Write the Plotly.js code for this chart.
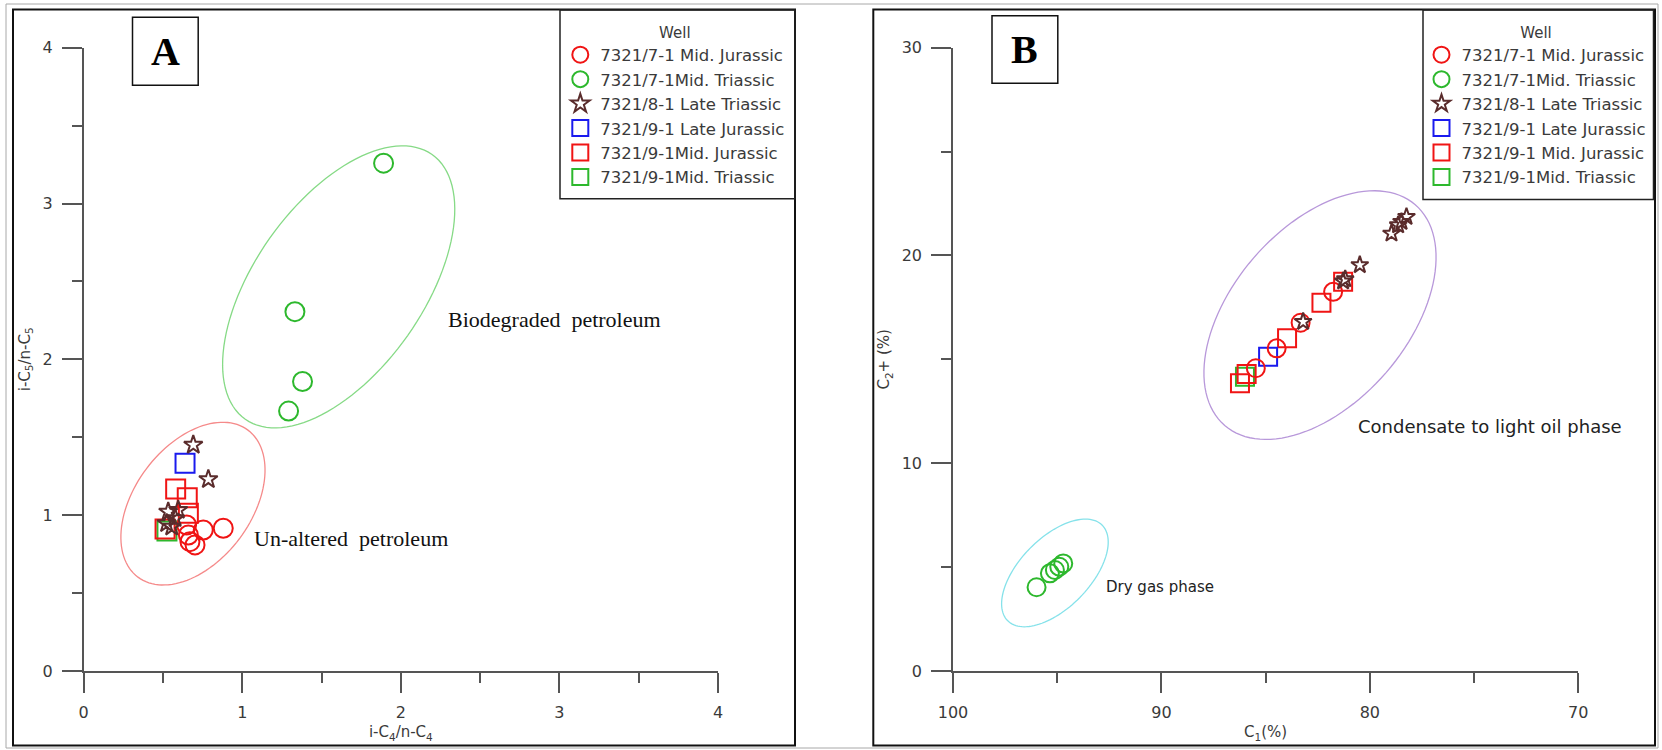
<!DOCTYPE html>
<html>
<head>
<meta charset="utf-8">
<script src="https://cdn.plot.ly/plotly-3.0.1.min.js"></script>
<style>
  html, body { margin: 0; padding: 0; background: #ffffff; }
  #chart { width: 1662px; height: 750px; }
</style>
</head>
<body>
<div id="chart"></div>
<script>
// ---------------- DATA ----------------
const seriesNames = [
  "7321/7-1 Mid. Jurassic",
  "7321/7-1Mid. Triassic",
  "7321/8-1 Late Triassic",
  "7321/9-1 Late Jurassic",
  "7321/9-1Mid. Jurassic",
  "7321/9-1Mid. Triassic"
];
const seriesNamesB = [
  "7321/7-1 Mid. Jurassic",
  "7321/7-1Mid. Triassic",
  "7321/8-1 Late Triassic",
  "7321/9-1 Late Jurassic",
  "7321/9-1 Mid. Jurassic",
  "7321/9-1Mid. Triassic"
];

// Panel A: i-C4/n-C4 (x) vs i-C5/n-C5 (y)
const A_71MidJur_x = [0.649, 0.754, 0.880, 0.670, 0.702, 0.660];
const A_71MidJur_y = [0.937, 0.905, 0.916, 0.830, 0.809, 0.873];
const A_71MidTri_x = [1.891, 1.332, 1.380, 1.292];
const A_71MidTri_y = [3.259, 2.306, 1.858, 1.668];
const A_81LateTri_x = [0.691, 0.786, 0.533, 0.576, 0.523, 0.555, 0.596];
const A_81LateTri_y = [1.451, 1.230, 1.022, 0.980, 0.948, 0.926, 1.033];
const A_91LateJur_x = [0.639];
const A_91LateJur_y = [1.333];
const A_91MidJur_x = [0.580, 0.653, 0.660, 0.513];
const A_91MidJur_y = [1.168, 1.112, 1.012, 0.911];
const A_91MidTri_x = [0.525];
const A_91MidTri_y = [0.899];

// Panel B: C1 (%) (x, reversed) vs C2+ (%) (y)
const B_71MidJur_x = [81.76, 83.32, 84.47, 85.47];
const B_71MidJur_y = [18.25, 16.76, 15.53, 14.57];
const B_71MidTri_x = [95.99, 95.35, 95.11, 94.90, 94.71];
const B_71MidTri_y = [4.03, 4.70, 4.86, 5.02, 5.18];
const B_81LateTri_x = [78.24, 78.48, 78.64, 78.96, 80.48, 81.28, 81.18, 83.20];
const B_81LateTri_y = [21.86, 21.62, 21.46, 21.06, 19.54, 18.76, 18.86, 16.81];
const B_91LateJur_x = [84.88];
const B_91LateJur_y = [15.13];
const B_91MidJur_x = [81.28, 82.32, 83.97, 85.91, 86.23];
const B_91MidJur_y = [18.73, 17.72, 16.01, 14.29, 13.85];
const B_91MidTri_x = [85.99];
const B_91MidTri_y = [14.16];

// Axis tick values
const A_xTicks = [0, 1, 2, 3, 4];
const A_yTicks = [0, 1, 2, 3, 4];
const B_xTicks = [100, 90, 80, 70];
const B_yTicks = [0, 10, 20, 30];

// ---------------- LAYOUT / STYLE ----------------
const W = 1662, H = 750;
const SANS = '"DejaVu Sans", "Liberation Sans", Arial, sans-serif';
const SERIF = '"Liberation Serif", "Times New Roman", serif';
const AXC = '#555555';
const TXC = '#3a3a3a';

const plotTop = 47.7, plotBot = 671;
const A_left = 83.7, A_right = 718;
const B_left = 953, B_right = 1578.2;

const px = v => v / W;
const py = v => 1 - v / H;

const COL = {
  red: '#f01414',
  green: '#2db82d',
  star: '#5a2c2c',
  blue: '#1a1aee'
};

// ellipse decorations: centre in data units, semi-axes (px) and tilt (deg, visual)
const ELLIPSES = [
  {xref: 'x', yref: 'y', cx: 1.608, cy: 2.465, a: 162, b: 84.4, th: 54.8, color: '#86da86', sx: (A_right - A_left) / 4, sy: (plotBot - plotTop) / 4},
  {xref: 'x', yref: 'y', cx: 0.689, cy: 1.074, a: 91.8, b: 58.2, th: 53.2, color: '#f58a8a', sx: (A_right - A_left) / 4, sy: (plotBot - plotTop) / 4},
  {xref: 'x2', yref: 'y2', cx: 95.11, cy: 4.72, a: 67.2, b: 35, th: 45.5, color: '#86e2ea', sx: -(B_right - B_left) / 30, sy: (plotBot - plotTop) / 30},
  {xref: 'x2', yref: 'y2', cx: 82.39, cy: 17.13, a: 145.8, b: 87.6, th: 49.2, color: '#b898da', sx: -(B_right - B_left) / 30, sy: (plotBot - plotTop) / 30}
];

function ellipsePath(e) {
  const n = 120, th = e.th * Math.PI / 180;
  let d = '';
  for (let i = 0; i <= n; i++) {
    const t = 2 * Math.PI * i / n;
    const dx = e.a * Math.cos(t) * Math.cos(th) - e.b * Math.sin(t) * Math.sin(th);
    const dy = e.a * Math.cos(t) * Math.sin(th) + e.b * Math.sin(t) * Math.cos(th);
    const x = e.cx + dx / e.sx, y = e.cy + dy / e.sy;
    d += (i === 0 ? 'M' : 'L') + x.toFixed(5) + ',' + y.toFixed(5);
  }
  return d + 'Z';
}

function mk(name, x, y, symbol, color, size, rank, xa, ya, leg) {
  return {
    type: 'scatter', mode: 'markers', name: name, x: x, y: y,
    xaxis: xa, yaxis: ya, legend: leg, legendrank: rank,
    marker: {symbol: symbol, size: size, color: color, line: {color: color, width: 2}},
    hoverinfo: 'x+y+name'
  };
}

// drawing order: green squares, red squares, blue squares, red circles, green circles, stars
const traces = [
  mk(seriesNames[5], A_91MidTri_x, A_91MidTri_y, 'square-open', COL.green, 19, 6, 'x', 'y', 'legend'),
  mk(seriesNames[4], A_91MidJur_x, A_91MidJur_y, 'square-open', COL.red, 19, 5, 'x', 'y', 'legend'),
  mk(seriesNames[3], A_91LateJur_x, A_91LateJur_y, 'square-open', COL.blue, 19, 4, 'x', 'y', 'legend'),
  mk(seriesNames[0], A_71MidJur_x, A_71MidJur_y, 'circle-open', COL.red, 19, 1, 'x', 'y', 'legend'),
  mk(seriesNames[1], A_71MidTri_x, A_71MidTri_y, 'circle-open', COL.green, 19, 2, 'x', 'y', 'legend'),
  mk(seriesNames[2], A_81LateTri_x, A_81LateTri_y, 'star-open', COL.star, 14, 3, 'x', 'y', 'legend'),

  mk(seriesNamesB[5], B_91MidTri_x, B_91MidTri_y, 'square-open', COL.green, 18, 6, 'x2', 'y2', 'legend2'),
  mk(seriesNamesB[4], B_91MidJur_x, B_91MidJur_y, 'square-open', COL.red, 18, 5, 'x2', 'y2', 'legend2'),
  mk(seriesNamesB[3], B_91LateJur_x, B_91LateJur_y, 'square-open', COL.blue, 18, 4, 'x2', 'y2', 'legend2'),
  mk(seriesNamesB[0], B_71MidJur_x, B_71MidJur_y, 'circle-open', COL.red, 18, 1, 'x2', 'y2', 'legend2'),
  mk(seriesNamesB[1], B_71MidTri_x, B_71MidTri_y, 'circle-open', COL.green, 18, 2, 'x2', 'y2', 'legend2'),
  mk(seriesNamesB[2], B_81LateTri_x, B_81LateTri_y, 'star-open', COL.star, 13, 3, 'x2', 'y2', 'legend2')
];

function axisBase(extra) {
  return Object.assign({
    showline: true, linecolor: AXC, linewidth: 1.5,
    showgrid: false, zeroline: false,
    ticks: 'outside', ticklen: 20, tickwidth: 1.5, tickcolor: AXC,
    tickfont: {family: SANS, size: 16, color: TXC},
    ticklabelstandoff: 6,
    fixedrange: true
  }, extra);
}

const rect = (x0, y0, x1, y1, color, width) => ({
  type: 'rect', xref: 'paper', yref: 'paper',
  x0: px(x0), x1: px(x1), y0: py(y1), y1: py(y0),
  line: {color: color, width: width}, fillcolor: 'rgba(0,0,0,0)', layer: 'above'
});

const shapes = [
  rect(6, 4, 1658, 748, '#a8a8a8', 1),
  rect(13, 9.5, 795, 745.5, '#111111', 2),
  rect(873.3, 9.5, 1655, 745.5, '#111111', 2),
  rect(132.5, 17.3, 198.2, 85.3, '#111111', 1.5),
  rect(992, 15.7, 1057.8, 83.3, '#111111', 1.5),
  rect(560, 10, 795, 198.7, '#222222', 1.5),
  rect(1423, 10, 1653.5, 199.5, '#222222', 1.5)
].concat(ELLIPSES.map(e => ({
  type: 'path', xref: e.xref, yref: e.yref, path: ellipsePath(e),
  line: {color: e.color, width: 1.3}, layer: 'below'
})));

const annotations = [
  {xref: 'paper', yref: 'paper', x: px(165.3), y: py(51.3), text: '<b>A</b>', showarrow: false,
   xanchor: 'center', yanchor: 'middle', font: {family: SERIF, size: 40, color: '#000'}},
  {xref: 'paper', yref: 'paper', x: px(1024.9), y: py(49.5), text: '<b>B</b>', showarrow: false,
   xanchor: 'center', yanchor: 'middle', font: {family: SERIF, size: 40, color: '#000'}},
  {xref: 'x', yref: 'y', x: 2.284, y: 2.253, text: 'Biodegraded\u00a0 petroleum', showarrow: false,
   xanchor: 'left', yanchor: 'middle', font: {family: SERIF, size: 22, color: '#111'}},
  {xref: 'x', yref: 'y', x: 1.059, y: 0.852, text: 'Un-altered\u00a0 petroleum', showarrow: false,
   xanchor: 'left', yanchor: 'middle', font: {family: SERIF, size: 22, color: '#111'}},
  {xref: 'x2', yref: 'y2', x: 80.68, y: 11.76, text: 'Condensate to light oil phase', showarrow: false,
   xanchor: 'left', yanchor: 'middle', font: {family: SANS, size: 18, color: '#222'}},
  {xref: 'x2', yref: 'y2', x: 92.76, y: 4.06, text: 'Dry gas phase', showarrow: false,
   xanchor: 'left', yanchor: 'middle', font: {family: SANS, size: 15, color: '#222'}}
];

const legendBase = {
  xanchor: 'left', yanchor: 'top',
  bgcolor: 'rgba(0,0,0,0)', borderwidth: 0,
  font: {family: SANS, size: 16.5, color: TXC},
  title: {text: 'Well', side: 'top center', font: {family: SANS, size: 15, color: TXC}},
  itemclick: false, itemdoubleclick: false
};

const layout = {
  width: W, height: H,
  margin: {l: 0, r: 0, t: 0, b: 0},
  paper_bgcolor: '#ffffff', plot_bgcolor: 'rgba(0,0,0,0)',
  showlegend: true,
  xaxis: axisBase({
    domain: [px(A_left), px(A_right)], range: [0, 4], anchor: 'y',
    tickmode: 'array', tickvals: A_xTicks,
    minor: {ticks: 'outside', ticklen: 10, tickwidth: 1.5, tickcolor: AXC, dtick: 0.5, tick0: 0, showgrid: false},
    title: {text: 'i-C<sub>4</sub>/n-C<sub>4</sub>', font: {family: SANS, size: 15, color: TXC}, standoff: 6}
  }),
  yaxis: axisBase({
    domain: [py(plotBot), py(plotTop)], range: [0, 4], anchor: 'x',
    tickmode: 'array', tickvals: A_yTicks,
    minor: {ticks: 'outside', ticklen: 10, tickwidth: 1.5, tickcolor: AXC, dtick: 0.5, tick0: 0, showgrid: false},
    title: {text: 'i-C<sub>5</sub>/n-C<sub>5</sub>', font: {family: SANS, size: 15, color: TXC}, standoff: 8}
  }),
  xaxis2: axisBase({
    domain: [px(B_left), px(B_right)], range: [100, 70], anchor: 'y2',
    tickmode: 'array', tickvals: B_xTicks,
    minor: {ticks: 'outside', ticklen: 10, tickwidth: 1.5, tickcolor: AXC, dtick: 5, tick0: 0, showgrid: false},
    title: {text: 'C<sub>1</sub>(%)', font: {family: SANS, size: 15, color: TXC}, standoff: 6}
  }),
  yaxis2: axisBase({
    domain: [py(plotBot), py(plotTop)], range: [0, 30], anchor: 'x2',
    tickmode: 'array', tickvals: B_yTicks,
    minor: {ticks: 'outside', ticklen: 10, tickwidth: 1.5, tickcolor: AXC, dtick: 5, tick0: 0, showgrid: false},
    title: {text: 'C<sub>2</sub>+ (%)', font: {family: SANS, size: 15, color: TXC}, standoff: 8}
  }),
  legend: Object.assign({}, legendBase, {x: px(560.3), y: py(18)}),
  legend2: Object.assign({}, legendBase, {x: px(1421.5), y: py(18)}),
  shapes: shapes,
  annotations: annotations
};

Plotly.newPlot('chart', traces, layout, {displayModeBar: false, staticPlot: false, responsive: false});
</script>
</body>
</html>
